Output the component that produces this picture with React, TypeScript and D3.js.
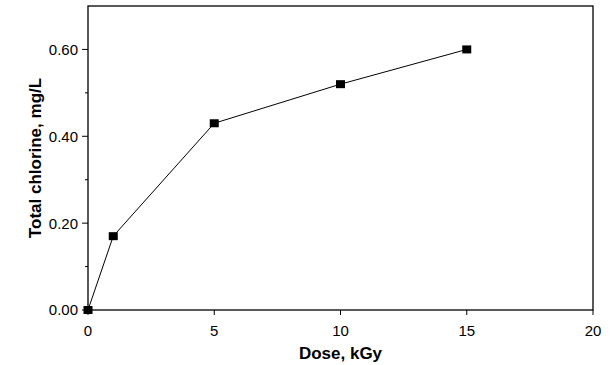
import { line, scaleLinear } from 'd3'

const doses = [0, 1, 5, 10, 15]
const chlorine = [0, 0.17, 0.43, 0.52, 0.6]
const xTicks = [0, 5, 10, 15, 20]
const yTicks = [0, 0.2, 0.4, 0.6]
const yMinorTicks = [0.1, 0.3, 0.5]

const WIDTH = 612
const HEIGHT = 365
const LEFT = 88
const RIGHT = 593
const TOP = 6
const BOTTOM = 310
const FONT = 'Liberation Sans, Arial, sans-serif'

export default function App() {
  const x = scaleLinear().domain([0, 20]).range([LEFT, RIGHT])
  const y = scaleLinear().domain([0, 0.7]).range([BOTTOM, TOP])

  const points = doses.map((d, i) => [x(d), y(chlorine[i])] as [number, number])
  const path = line()(points) ?? ''

  return (
    <svg
      width={WIDTH}
      height={HEIGHT}
      style={{ position: 'fixed', left: 0, top: 0, background: '#fff' }}
      fontFamily={FONT}
    >
      <rect x={LEFT} y={TOP} width={RIGHT - LEFT} height={BOTTOM - TOP} fill="none" stroke="#000" strokeWidth={1.3} />

      {yTicks.map((t) => (
        <g key={t}>
          <line x1={LEFT - 6} x2={LEFT} y1={y(t)} y2={y(t)} stroke="#000" />
          <text x={LEFT - 10} y={y(t)} dy="0.36em" textAnchor="end" fontSize={15}>
            {t.toFixed(2)}
          </text>
        </g>
      ))}
      {yMinorTicks.map((t) => (
        <line key={t} x1={LEFT - 3} x2={LEFT} y1={y(t)} y2={y(t)} stroke="#000" />
      ))}

      {xTicks.map((t) => (
        <g key={t}>
          <line x1={x(t)} x2={x(t)} y1={BOTTOM} y2={BOTTOM + 5} stroke="#000" />
          <text x={x(t)} y={BOTTOM + 26} textAnchor="middle" fontSize={15}>
            {t}
          </text>
        </g>
      ))}

      <text x={x(10)} y={BOTTOM + 49} textAnchor="middle" fontSize={17} fontWeight="bold">
        Dose, kGy
      </text>
      <text
        transform={`translate(41, ${(TOP + BOTTOM) / 2}) rotate(-90)`}
        textAnchor="middle"
        fontSize={17}
        fontWeight="bold"
      >
        Total chlorine, mg/L
      </text>

      <path d={path} fill="none" stroke="#000" strokeWidth={1} />
      {points.map(([px, py], i) => (
        <rect key={i} x={px - 4.5} y={py - 4} width={9} height={8} fill="#000" />
      ))}
    </svg>
  )
}
